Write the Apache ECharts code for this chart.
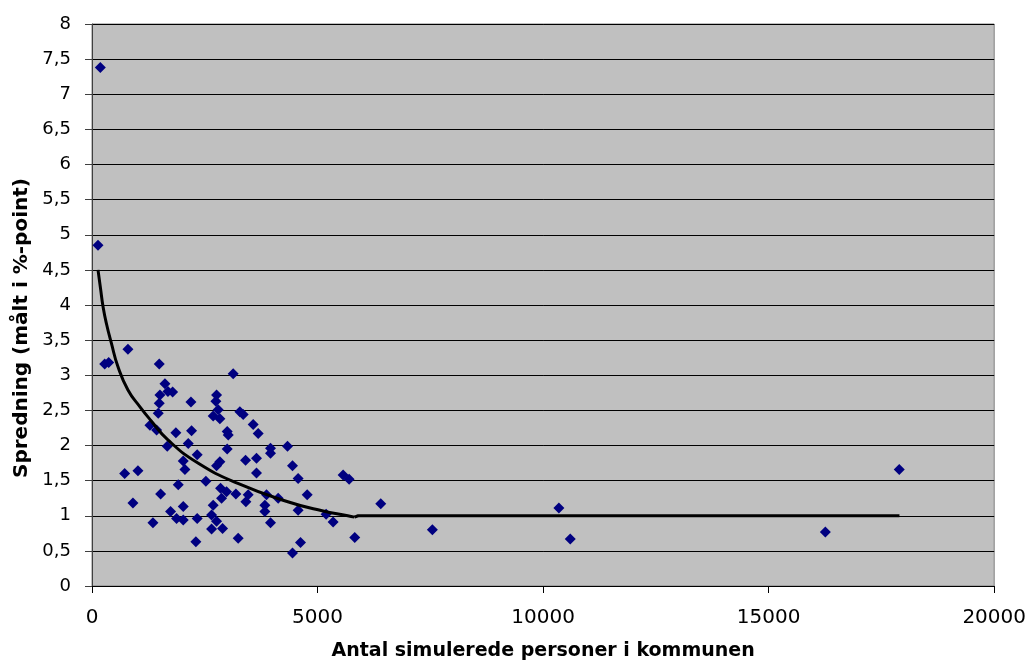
<!DOCTYPE html>
<html>
<head>
<meta charset="utf-8">
<script src="https://cdn.jsdelivr.net/npm/echarts@6/dist/echarts.min.js"></script>
<style>
html,body{margin:0;padding:0;background:#fff;}
#chart{width:1029px;height:666px;}
</style>
</head>
<body>
<div id="chart"></div>
<script>
// Scatter points: [antal simulerede personer, spredning]
var municipalities = [
  [184, 7.38], [133, 4.85], [281, 3.16], [370, 3.18], [797, 3.37],
  [724, 1.60], [1019, 1.64], [908, 1.18], [1351, 0.90],
  [1491, 3.16], [3130, 3.02], [1617, 2.88], [1787, 2.76], [1683, 2.77],
  [1506, 2.72], [1491, 2.60], [2193, 2.62], [2761, 2.72], [2746, 2.63],
  [1469, 2.46], [2798, 2.51], [2687, 2.42], [2835, 2.38], [3278, 2.48],
  [3351, 2.44], [1285, 2.29], [1432, 2.22], [1860, 2.18], [2207, 2.21],
  [2997, 2.20], [3020, 2.15], [3573, 2.30], [3684, 2.17],
  [1668, 1.99], [2134, 2.03], [2332, 1.87], [2023, 1.78], [2060, 1.66],
  [2997, 1.95], [2835, 1.77], [2761, 1.71], [3404, 1.79], [3647, 1.82],
  [3957, 1.96], [3957, 1.89], [4334, 1.99], [4445, 1.71], [3647, 1.61],
  [4570, 1.53], [1912, 1.44], [2525, 1.49], [1521, 1.31], [2850, 1.39],
  [2983, 1.34], [2872, 1.25], [3189, 1.31], [3463, 1.30], [3411, 1.20],
  [3869, 1.30], [3832, 1.15], [3832, 1.06], [4127, 1.25], [4770, 1.30],
  [4570, 1.08], [2687, 1.15], [1742, 1.06], [2023, 1.13], [1875, 0.96],
  [2023, 0.94], [2332, 0.96], [2650, 1.01], [2761, 0.92], [2650, 0.81],
  [2894, 0.82], [3957, 0.90], [2303, 0.63], [3241, 0.68], [4622, 0.62],
  [4445, 0.47],
  [5190, 1.02], [5345, 0.91], [5567, 1.58], [5700, 1.52], [5825, 0.69],
  [6401, 1.17], [7545, 0.80], [10350, 1.11], [10602, 0.67], [16257, 0.77],
  [17896, 1.66]
];

// Trend curve (curved part, then flat part)
var trendCurve = [
  [133, 4.50], [192, 4.22], [244, 3.98], [318, 3.74], [428, 3.46],
  [576, 3.12], [797, 2.79], [1063, 2.55], [1300, 2.36], [1683, 2.08],
  [2348, 1.75], [3234, 1.46], [4341, 1.20], [5100, 1.07], [5670, 1.00],
  [5820, 0.98]
];
var trendFlat = [
  [5820, 0.98], [5900, 1.00], [17900, 1.00]
];

var yTickLabels = ['0','0,5','1','1,5','2','2,5','3','3,5','4','4,5','5','5,5','6','6,5','7','7,5','8'];
var xTickLabels = ['0','5000','10000','15000','20000'];

var xAxisTitle = 'Antal simulerede personer i kommunen';
var yAxisTitle = 'Spredning (målt i %-point)';

var FONT = '"DejaVu Sans", "Liberation Sans", Arial, sans-serif';

var chart = echarts.init(document.getElementById('chart'), null, {renderer: 'canvas'});
chart.setOption({
  animation: false,
  backgroundColor: '#ffffff',
  grid: {
    left: 92, right: 34, top: 24, bottom: 80,
    show: true,
    backgroundColor: '#c0c0c0',
    borderColor: '#808080',
    borderWidth: 1
  },
  xAxis: {
    type: 'value',
    min: 0, max: 20000, interval: 5000,
    name: xAxisTitle,
    nameLocation: 'middle',
    nameGap: 56,
    nameTextStyle: {fontFamily: FONT, fontWeight: 'bold', fontSize: 19, color: '#000'},
    axisLine: {show: true, onZero: false, lineStyle: {color: '#000', width: 1}},
    axisTick: {show: true, length: 7, inside: false, lineStyle: {color: '#000'}},
    axisLabel: {
      margin: 22, fontFamily: FONT, fontSize: 20, color: '#000',
      formatter: function (v) { return xTickLabels[Math.round(v / 5000)]; }
    },
    splitLine: {show: false}
  },
  yAxis: {
    type: 'value',
    min: 0, max: 8, interval: 0.5,
    name: yAxisTitle,
    nameLocation: 'middle',
    nameRotate: 90,
    nameGap: 60,
    nameTextStyle: {fontFamily: FONT, fontWeight: 'bold', fontSize: 20, color: '#000', padding: [0, 46, 0, 0]},
    axisLine: {show: true, onZero: false, lineStyle: {color: '#404040', width: 1}},
    axisTick: {show: true, length: 7, inside: false, lineStyle: {color: '#404040'}},
    axisLabel: {
      margin: 21, fontFamily: FONT, fontSize: 18, color: '#000',
      formatter: function (v) { return yTickLabels[Math.round(v / 0.5)]; }
    },
    splitLine: {show: true, lineStyle: {color: '#000', width: 1}}
  },
  series: [
    {
      type: 'scatter',
      data: municipalities,
      symbol: 'diamond',
      symbolSize: 11,
      itemStyle: {color: '#000080', opacity: 1},
      z: 2
    },
    {
      type: 'line',
      data: trendCurve,
      smooth: 0.5,
      showSymbol: false,
      symbol: 'none',
      lineStyle: {color: '#000', width: 3},
      z: 3
    },
    {
      type: 'line',
      data: trendFlat,
      smooth: false,
      showSymbol: false,
      symbol: 'none',
      lineStyle: {color: '#000', width: 3},
      z: 3
    }
  ]
});
</script>
</body>
</html>
